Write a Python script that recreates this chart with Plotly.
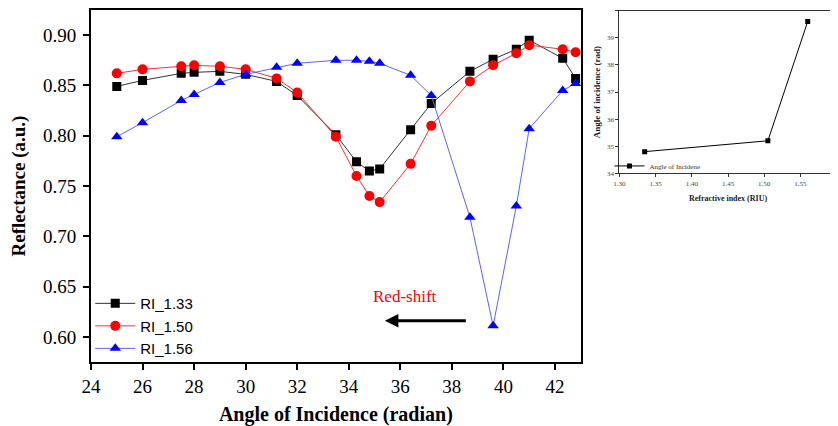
import plotly.graph_objects as go

# ---- data ----
angle = [25, 26, 27.5, 28, 29, 30, 31.2, 32, 33.5, 34.3, 34.8, 35.2,
         36.4, 37.2, 38.7, 39.6, 40.5, 41, 42.3, 42.8]
ri_133 = [0.849, 0.855, 0.862, 0.863, 0.864, 0.861, 0.854, 0.840, 0.801, 0.774,
          0.765, 0.767, 0.806, 0.832, 0.864, 0.876, 0.886, 0.895, 0.877, 0.857]
ri_150 = [0.862, 0.866, 0.869, 0.870, 0.869, 0.866, 0.857, 0.843, 0.799, 0.760,
          0.740, 0.734, 0.772, 0.810, 0.854, 0.870, 0.882, 0.890, 0.886, 0.883]
ri_156 = [0.799, 0.813, 0.835, 0.841, 0.853, 0.861, 0.868, 0.872, 0.875, 0.875,
          0.874, 0.872, 0.860, 0.840, 0.719, 0.611, 0.730, 0.807, 0.845, 0.852]

inset_ri = [1.335, 1.505, 1.56]
inset_angle = [34.8, 35.2, 39.6]

SERIF = "Liberation Serif, Times New Roman, serif"
SANS = "Liberation Sans, Arial, sans-serif"

fig = go.Figure()
fig.add_trace(go.Scatter(x=angle, y=ri_133, mode="lines+markers", name="RI_1.33",
                         line=dict(color="#333333", width=1),
                         marker=dict(symbol="square", size=9, color="black")))
fig.add_trace(go.Scatter(x=angle, y=ri_150, mode="lines+markers", name="RI_1.50",
                         line=dict(color="#ff3030", width=1),
                         marker=dict(symbol="circle", size=10, color="#ff0000")))
fig.add_trace(go.Scatter(x=angle, y=ri_156, mode="lines+markers", name="RI_1.56",
                         line=dict(color="#6060ff", width=1),
                         marker=dict(symbol="triangle-up", size=10, color="#0000ff")))

fig.add_trace(go.Scatter(x=inset_ri, y=inset_angle, mode="lines+markers",
                         name="Angle of Incidene", xaxis="x2", yaxis="y2",
                         legend="legend2",
                         line=dict(color="black", width=1),
                         marker=dict(symbol="square", size=5, color="black")))

fig.add_annotation(x=36.2, y=0.640, xref="x", yref="y", text="Red-shift",
                   showarrow=False, font=dict(family=SERIF, size=17, color="#ff0000"))
fig.add_annotation(x=35.4, y=0.616, ax=38.6, ay=0.616, xref="x", yref="y",
                   axref="x", ayref="y", text="", showarrow=True,
                   arrowhead=2, arrowsize=0.9, arrowwidth=3, arrowcolor="black")

# page body has an 8px default margin, so the figure is 830x418
fig.update_layout(
    template="none",
    width=830, height=418,
    margin=dict(l=83, r=1, t=2, b=64, autoexpand=False),
    paper_bgcolor="white", plot_bgcolor="white",
    showlegend=True,
    legend=dict(x=-0.001, y=0.102, xanchor="left", yanchor="middle",
                bgcolor="rgba(0,0,0,0)", font=dict(family=SANS, size=15, color="black"),
                itemwidth=40, tracegroupgap=0, borderwidth=0),
    legend2=dict(x=0.695, y=0.557, xanchor="left", yanchor="middle",
                 bgcolor="rgba(0,0,0,0)", font=dict(family=SERIF, size=7, color="#333"),
                 itemwidth=30, borderwidth=0),
    xaxis=dict(domain=[0, 0.6565], range=[24, 43], tickmode="linear", tick0=24, dtick=2,
               automargin=False,
               showgrid=False, zeroline=False, showline=True, linecolor="black", linewidth=2,
               mirror=True, ticks="outside", ticklen=6, tickwidth=2, tickcolor="black",
               tickfont=dict(family=SERIF, size=19, color="black"),
               title=dict(text="<b>Angle of Incidence (radian)</b>", standoff=16,
                          font=dict(family=SERIF, size=20, color="black"))),
    yaxis=dict(domain=[0, 1], range=[0.575, 0.925], tickmode="linear", tick0=0.6, dtick=0.05,
               tickformat=".2f", automargin=False, ticklabelstandoff=3,
               showgrid=False, zeroline=False, showline=True, linecolor="black", linewidth=2,
               mirror=True, ticks="outside", ticklen=6, tickwidth=2, tickcolor="black",
               tickfont=dict(family=SERIF, size=19, color="black"),
               title=dict(text="<b>Reflectance (a.u.)</b>", standoff=15,
                          font=dict(family=SERIF, size=19, color="black"))),
    xaxis2=dict(domain=[0.7082, 0.9996], anchor="y2", range=[1.30, 1.60],
                tickmode="linear", tick0=1.30, dtick=0.05, tickformat=".2f",
                automargin=False,
                showgrid=False, zeroline=False, showline=True, linecolor="#333", linewidth=1,
                mirror=True, ticks="outside", ticklen=3, tickwidth=1, tickcolor="#333",
                tickfont=dict(family=SERIF, size=7, color="#444"),
                title=dict(text="<b>Refractive index (RIU)</b>", standoff=8,
                           font=dict(family=SERIF, size=8, color="#222"))),
    yaxis2=dict(domain=[0.536, 0.998], anchor="x2", range=[34, 40],
                tickmode="linear", tick0=34, dtick=1, automargin=False,
                showgrid=False, zeroline=False, showline=True, linecolor="#333", linewidth=1,
                mirror=True, ticks="outside", ticklen=3, tickwidth=1, tickcolor="#333",
                tickfont=dict(family=SERIF, size=7, color="#444"),
                title=dict(text="<b>Angle of incidence (rad)</b>", standoff=4,
                           font=dict(family=SERIF, size=9, color="#222"))),
)

fig.write_html("out.html")
